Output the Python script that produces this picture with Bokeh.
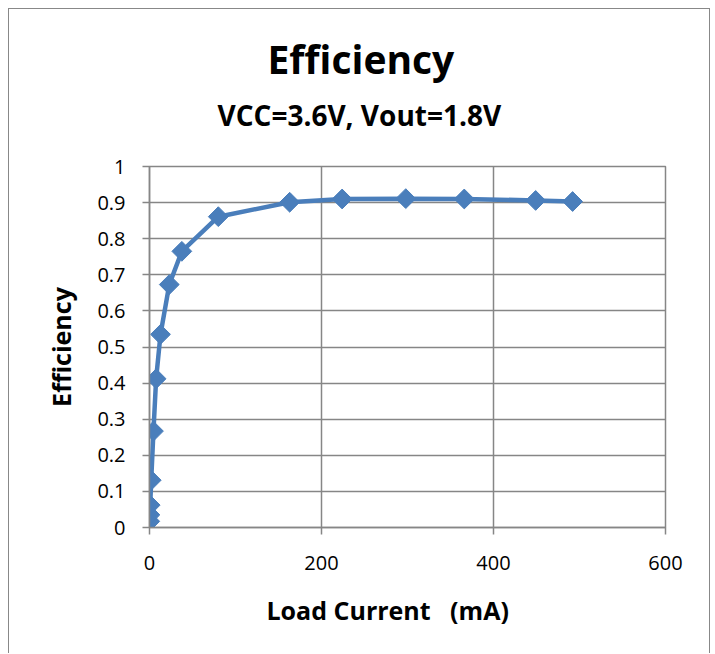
import math
from bokeh.plotting import figure
from bokeh.models import Title, Range1d, FixedTicker
from bokeh.embed import file_html
from bokeh.resources import INLINE

# Data
load_current_ma = [0.3, 0.5, 0.8, 2, 4.6, 7.7, 12.8, 23, 37.6, 80, 163, 224, 298, 366, 449, 492]
efficiency = [0.017, 0.035, 0.062, 0.131, 0.267, 0.412, 0.535, 0.673, 0.765, 0.861, 0.901, 0.910, 0.911, 0.910, 0.906, 0.903]

x_ticks = [0, 200, 400, 600]
y_ticks = [0, 0.1, 0.2, 0.3, 0.4, 0.5, 0.6, 0.7, 0.8, 0.9, 1]

title_text = "Efficiency"
subtitle_text = "VCC=3.6V, Vout=1.8V"
x_label = "Load Current\u00a0\u00a0 (mA)"
y_label = "Efficiency"

FONT = "Open Sans"
GRID = "#868686"
BLUE = "#4A7EBB"

p = figure(
    width=700, height=646,
    frame_width=516, frame_height=361,
    x_range=Range1d(0, 600), y_range=Range1d(0, 1),
    output_backend="svg", toolbar_location=None,
    min_border_left=140, min_border_right=44,
    min_border_top=157, min_border_bottom=126,
)
p.styles = {"margin-left": "8px", "margin-top": "8px",
            "border-left": "1.5px solid #888888", "border-top": "1.5px solid #888888",
            "border-right": "1.5px solid #888888"}

# invisible spacer between the frame and the subtitle
p.add_layout(Title(text="\u00a0", text_font_size="1px", standoff=21), "above")
p.add_layout(Title(text=subtitle_text, align="left", offset=68,
                   text_font=FONT, text_font_size="28px", text_font_style="bold",
                   text_color="black", standoff=18), "above")
p.add_layout(Title(text=title_text, align="left", offset=118,
                   text_font=FONT, text_font_size="39px", text_font_style="bold",
                   text_color="black", standoff=0), "above")

p.outline_line_color = GRID
p.outline_line_width = 1.5
p.background_fill_color = "white"
p.border_fill_color = "white"

for ax in (p.xaxis, p.yaxis):
    ax.axis_line_color = GRID
    ax.axis_line_width = 1.5
    ax.major_tick_line_color = GRID
    ax.major_tick_line_width = 1.5
    ax.major_tick_out = 7
    ax.major_tick_in = 0
    ax.minor_tick_line_color = None
    ax.major_label_text_font = FONT
    ax.major_label_text_font_size = "20px"
    ax.major_label_text_color = "black"
    ax.axis_label_text_font = FONT
    ax.axis_label_text_font_size = "25px"
    ax.axis_label_text_font_style = "bold"
    ax.axis_label_text_color = "black"

p.xaxis.ticker = FixedTicker(ticks=x_ticks)
p.yaxis.ticker = FixedTicker(ticks=y_ticks)
p.xaxis.major_label_standoff = 21
p.yaxis.major_label_standoff = 17
p.yaxis.axis_label = y_label
p.yaxis.axis_label_standoff = 16

# spacer below the axis, then the x-axis title, left-aligned with an offset as in the reference
p.add_layout(Title(text="\u00a0", text_font_size="1px", standoff=4), "below")
p.add_layout(Title(text=x_label, align="left", offset=117,
                   text_font=FONT, text_font_size="25px", text_font_style="bold",
                   text_color="black", standoff=23), "below")

p.xgrid.ticker = FixedTicker(ticks=x_ticks)
p.ygrid.ticker = FixedTicker(ticks=y_ticks)
p.xgrid.grid_line_color = GRID
p.ygrid.grid_line_color = GRID
p.xgrid.grid_line_width = 1.5
p.ygrid.grid_line_width = 1.5

p.line(load_current_ma, efficiency, line_color=BLUE, line_width=4.5)
p.scatter(load_current_ma, efficiency, marker="square", size=14, angle=math.pi / 4,
          fill_color=BLUE, line_color=BLUE)

open("out.html", "w").write(file_html(p, INLINE))
